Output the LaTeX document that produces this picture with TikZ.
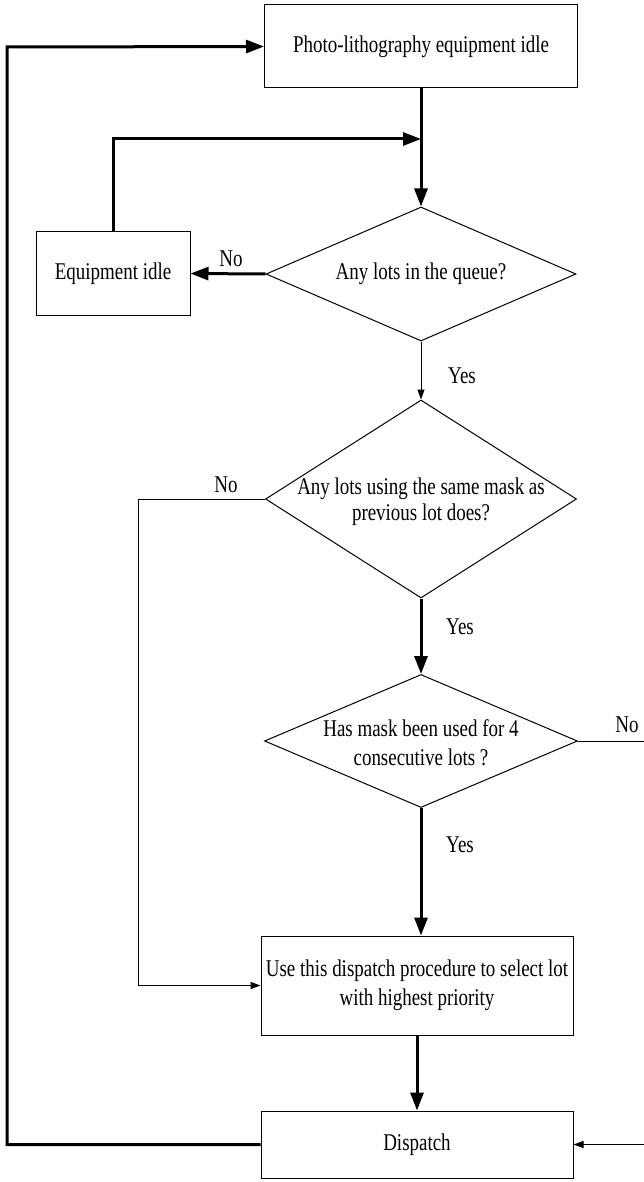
\documentclass[tikz,border=0pt]{standalone}
\usepackage{fontspec}
\setmainfont{Liberation Serif}[FakeStretch=0.79]
\usetikzlibrary{shapes.geometric,arrows.meta}
\begin{document}
\begin{tikzpicture}[x=1pt,y=-1pt,
  font=\fontsize{24}{27}\selectfont,
  box/.style={draw,line width=1pt,rectangle,inner sep=0pt,align=center},
  dec/.style={draw,line width=1pt,diamond,inner sep=0pt,shape aspect=2},
  thk/.style={line width=3pt,-{Triangle[length=18pt,width=13pt]}},
  thkline/.style={line width=3pt},
  thn/.style={line width=1pt,-{Triangle[length=10pt,width=7pt]}},
  thnline/.style={line width=1pt},
  lbl/.style={inner sep=0pt}]
\useasboundingbox (0,0) rectangle (644,1182);
\fill[white] (0,0) rectangle (644,1182);

\node[box,minimum width=313pt,minimum height=83pt] (b1) at (421,46.5) {Photo-lithography equipment idle};
\node[box,minimum width=154pt,minimum height=83pt] (eq) at (113,273.5) {Equipment idle};
\node[dec,minimum width=310pt,minimum height=134pt,label={[align=center,lbl]center:Any lots in the queue?}] (d1) at (421,274) {};
\node[dec,minimum width=311pt,minimum height=198pt,label={[align=center,lbl,yshift=-3pt]center:Any lots using the same mask as\\[-1pt]previous lot does?}] (d2) at (421,499) {};
\node[dec,minimum width=313pt,minimum height=133pt,label={[align=center,lbl,yshift=-2pt]center:Has mask been used for 4\\[2pt]consecutive lots ?}] (d3) at (421,741) {};
\node[box,minimum width=312pt,minimum height=99pt] (b3) at (417,985.5) {Use this dispatch procedure to select lot\\[2pt]with highest priority};
\node[box,minimum width=312pt,minimum height=67pt] (dp) at (417,1144.5) {Dispatch};

\coordinate (join) at (421,139);
\coordinate (lt) at (7,47);
\coordinate (lb) at (7,1144.5);
\coordinate (nl) at (138,499);
\coordinate (r1) at (644,741);
\coordinate (r2) at (644,1144.5);

% main flow
\draw[thk] (b1.south) -- (d1.north);
\draw[thk] (eq.north) |- (join);
\draw[thk] (d1.west) -- (eq.east);
\draw[thn] (d1.south) -- (d2.north);
\draw[thk] (d2.south) -- (d3.north);
\draw[thk] (d3.south) -- (d3.south |- b3.north);
\draw[thk] (b3.south) -- (dp.north);
\draw[thn] (d2.west) -- (nl) |- (b3.west);
\draw[thnline] (d3.east) -- (r1);
\draw[thn] (r2) -- (dp.east);
\draw[thk] (dp.west) -- (lb) -- (lt) -- (b1.west);

% labels
\node[lbl] (no1) at (231,259) {No};
\node[lbl] (yes1) at (462,376) {Yes};
\node[lbl] (no2) at (226,485) {No};
\node[lbl] (yes2) at (460,627) {Yes};
\node[lbl] (no3) at (627,725) {No};
\node[lbl] (yes3) at (460,845) {Yes};
\end{tikzpicture}
\end{document}
